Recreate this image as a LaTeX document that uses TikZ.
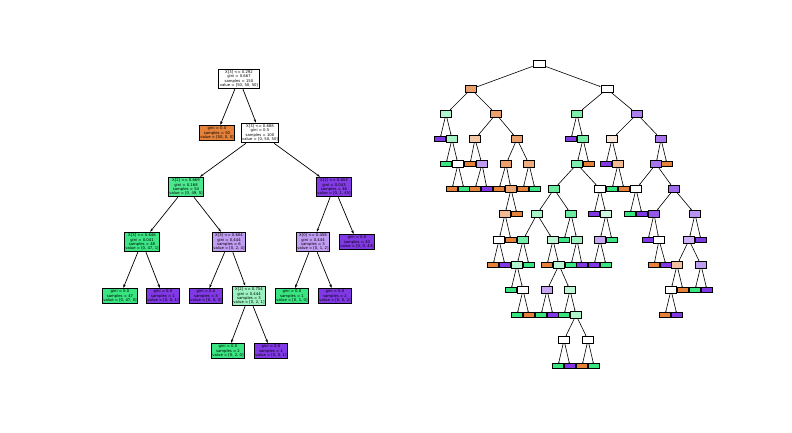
\documentclass[tikz,border=0pt]{standalone}
\usepackage{fontspec}
\setmainfont{DejaVu Sans}
\usetikzlibrary{arrows.meta}
\definecolor{treeorange}{HTML}{E58139}
\definecolor{treegreen}{HTML}{39E581}
\definecolor{treepurple}{HTML}{8139E5}
\tikzstyle{split}=[draw, rectangle, line width=0.9pt, inner xsep=1pt, inner ysep=1.5pt, align=center, font=\fontsize{3.8}{4.4}\selectfont]
\tikzstyle{mini}=[draw, rectangle, line width=0.85pt, minimum width=10.5pt, minimum height=7pt, inner sep=0pt]
\tikzstyle{minileaf}=[mini, minimum height=4.5pt]
\tikzstyle{edge}=[-{Stealth[length=3.5pt,width=2.4pt]}, line width=0.7pt]
\tikzstyle{miniedge}=[-{Stealth[length=1.6pt,width=1.2pt]}, line width=0.6pt]

\begin{document}
\begin{tikzpicture}[x=1pt, y=-1pt]
            \useasboundingbox (0,0) rectangle (792,432);

            % shallow tree
            \node[split, fill=white] (d0) at (239,79) {X[3] <= 0.292\\gini = 0.667\\samples = 150\\value = [50, 50, 50]};
            \node[split, fill=treeorange] (d1) at (217,133) {gini = 0.0\\samples = 50\\value = [50, 0, 0]};
            \node[split, fill=white] (d2) at (260,133) {X[3] <= 0.688\\gini = 0.5\\samples = 100\\value = [0, 50, 50]};
            \node[split, fill=treegreen!90] (d3) at (186,187) {X[2] <= 0.669\\gini = 0.168\\samples = 54\\value = [0, 49, 5]};
            \node[split, fill=treepurple!98] (d4) at (334,187) {X[2] <= 0.653\\gini = 0.043\\samples = 46\\value = [0, 1, 45]};
            \node[split, fill=treegreen!98] (d5) at (142,242) {X[3] <= 0.646\\gini = 0.041\\samples = 48\\value = [0, 47, 1]};
            \node[split, fill=treepurple!50] (d6) at (229,242) {X[3] <= 0.604\\gini = 0.444\\samples = 6\\value = [0, 2, 4]};
            \node[split, fill=treepurple!50] (d7) at (313,242) {X[0] <= 0.458\\gini = 0.444\\samples = 3\\value = [0, 1, 2]};
            \node[split, fill=treepurple] (d8) at (357,242) {gini = 0.0\\samples = 43\\value = [0, 0, 43]};
            \node[split, fill=treegreen] (d9) at (120,296) {gini = 0.0\\samples = 47\\value = [0, 47, 0]};
            \node[split, fill=treepurple] (d10) at (163,296) {gini = 0.0\\samples = 1\\value = [0, 0, 1]};
            \node[split, fill=treepurple] (d11) at (206,296) {gini = 0.0\\samples = 3\\value = [0, 0, 3]};
            \node[split, fill=treegreen!50] (d12) at (249,296) {X[2] <= 0.754\\gini = 0.444\\samples = 3\\value = [0, 2, 1]};
            \node[split, fill=treegreen] (d13) at (292,296) {gini = 0.0\\samples = 1\\value = [0, 1, 0]};
            \node[split, fill=treepurple] (d14) at (335,296) {gini = 0.0\\samples = 2\\value = [0, 0, 2]};
            \node[split, fill=treegreen] (d15) at (228,351) {gini = 0.0\\samples = 2\\value = [0, 2, 0]};
            \node[split, fill=treepurple] (d16) at (271,351) {gini = 0.0\\samples = 1\\value = [0, 0, 1]};

            \draw[edge] (d0) -- (d1);
            \draw[edge] (d0) -- (d2);
            \draw[edge] (d2) -- (d3);
            \draw[edge] (d2) -- (d4);
            \draw[edge] (d3) -- (d5);
            \draw[edge] (d3) -- (d6);
            \draw[edge] (d4) -- (d7);
            \draw[edge] (d4) -- (d8);
            \draw[edge] (d5) -- (d9);
            \draw[edge] (d5) -- (d10);
            \draw[edge] (d6) -- (d11);
            \draw[edge] (d6) -- (d12);
            \draw[edge] (d7) -- (d13);
            \draw[edge] (d7) -- (d14);
            \draw[edge] (d12) -- (d15);
            \draw[edge] (d12) -- (d16);

            % full tree
            \node[mini, minimum width=12pt, fill=white] (f0) at (539,64) {};
            \node[mini, fill=treeorange!75] (f1) at (471,89) {};
            \node[mini, minimum width=12pt, fill=white] (f2) at (607,89) {};
            \node[mini, fill=treegreen!40] (f3) at (446,114) {};
            \node[mini, fill=treeorange!75] (f4) at (496,114) {};
            \node[mini, fill=treegreen!65] (f5) at (577,114) {};
            \node[mini, fill=treepurple!65] (f6) at (637,114) {};
            \node[minileaf, fill=treepurple] (f7) at (440,139) {};
            \node[mini, fill=treegreen!45] (f8) at (452,139) {};
            \node[mini, fill=treeorange!45] (f9) at (475,139) {};
            \node[mini, fill=treeorange!75] (f10) at (517,139) {};
            \node[minileaf, fill=treepurple] (f11) at (571,139) {};
            \node[mini, fill=treegreen!70] (f12) at (583,139) {};
            \node[mini, fill=treeorange!20] (f13) at (612,139) {};
            \node[mini, fill=treepurple!70] (f14) at (661,139) {};
            \node[minileaf, fill=treegreen] (f15) at (446,164) {};
            \node[mini, fill=white] (f16) at (458,164) {};
            \node[minileaf, fill=treeorange] (f17) at (470,164) {};
            \node[mini, fill=treepurple!50] (f18) at (482,164) {};
            \node[mini, fill=treeorange!75] (f19) at (506,164) {};
            \node[mini, fill=treeorange!65] (f20) at (529,164) {};
            \node[mini, fill=treegreen!65] (f21) at (577,164) {};
            \node[minileaf, fill=treeorange] (f22) at (589,164) {};
            \node[minileaf, fill=treepurple] (f23) at (606,164) {};
            \node[mini, fill=treeorange!55] (f24) at (618,164) {};
            \node[mini, fill=treepurple!70] (f25) at (656,164) {};
            \node[minileaf, fill=treeorange] (f26) at (667,164) {};
            \node[minileaf, fill=treeorange] (f27) at (452,189) {};
            \node[minileaf, fill=treegreen] (f28) at (464,189) {};
            \node[minileaf, fill=treeorange] (f29) at (475,189) {};
            \node[minileaf, fill=treepurple] (f30) at (487,189) {};
            \node[minileaf, fill=treeorange] (f31) at (499,189) {};
            \node[mini, fill=treeorange!70] (f32) at (511,189) {};
            \node[minileaf, fill=treeorange] (f33) at (523,189) {};
            \node[minileaf, fill=treegreen] (f34) at (535,189) {};
            \node[mini, fill=treegreen!75] (f35) at (554,189) {};
            \node[mini, fill=white] (f36) at (600,189) {};
            \node[minileaf, fill=treegreen] (f37) at (612,189) {};
            \node[minileaf, fill=treeorange] (f38) at (624,189) {};
            \node[mini, fill=white] (f39) at (636,189) {};
            \node[mini, fill=treepurple!75] (f40) at (674,189) {};
            \node[mini, fill=treeorange!55] (f41) at (505,214) {};
            \node[minileaf, fill=treeorange] (f42) at (517,214) {};
            \node[mini, fill=treegreen!45] (f43) at (537,214) {};
            \node[mini, fill=treegreen!75] (f44) at (571,214) {};
            \node[minileaf, fill=treepurple] (f45) at (594,214) {};
            \node[mini, fill=treegreen!25] (f46) at (606,214) {};
            \node[minileaf, fill=treegreen] (f47) at (630,214) {};
            \node[minileaf, fill=treepurple] (f48) at (642,214) {};
            \node[mini, fill=treepurple!85] (f49) at (654,214) {};
            \node[mini, fill=treepurple!55] (f50) at (695,214) {};
            \node[mini, fill=white] (f51) at (499,240) {};
            \node[minileaf, fill=treeorange] (f52) at (511,240) {};
            \node[mini, fill=treegreen!70] (f53) at (523,240) {};
            \node[mini, fill=treegreen!35] (f54) at (553,240) {};
            \node[minileaf, fill=treegreen] (f55) at (564,240) {};
            \node[mini, fill=treegreen!50] (f56) at (577,240) {};
            \node[mini, fill=treepurple!45] (f57) at (600,240) {};
            \node[minileaf, fill=treegreen] (f58) at (612,240) {};
            \node[minileaf, fill=treepurple] (f59) at (648,240) {};
            \node[mini, fill=white] (f60) at (659,240) {};
            \node[mini, fill=treepurple!40] (f61) at (689,240) {};
            \node[minileaf, fill=treepurple] (f62) at (701,240) {};
            \node[minileaf, fill=treeorange] (f63) at (493,265) {};
            \node[minileaf, fill=treepurple] (f64) at (505,265) {};
            \node[mini, fill=treegreen!40] (f65) at (517,265) {};
            \node[minileaf, fill=treegreen] (f66) at (529,265) {};
            \node[minileaf, fill=treeorange] (f67) at (547,265) {};
            \node[mini, fill=treegreen!35] (f68) at (559,265) {};
            \node[minileaf, fill=treegreen] (f69) at (571,265) {};
            \node[minileaf, fill=treepurple] (f70) at (582,265) {};
            \node[minileaf, fill=treepurple] (f71) at (594,265) {};
            \node[minileaf, fill=treegreen] (f72) at (606,265) {};
            \node[minileaf, fill=treeorange] (f73) at (654,265) {};
            \node[minileaf, fill=treepurple] (f74) at (666,265) {};
            \node[mini, fill=treeorange!50] (f75) at (677,265) {};
            \node[mini, fill=treepurple!50] (f76) at (701,265) {};
            \node[minileaf, fill=treegreen] (f77) at (511,290) {};
            \node[mini, fill=white] (f78) at (523,290) {};
            \node[mini, fill=treepurple!45] (f79) at (547,290) {};
            \node[mini, fill=treegreen!35] (f80) at (570,290) {};
            \node[mini, fill=white] (f81) at (671,290) {};
            \node[minileaf, fill=treeorange] (f82) at (683,290) {};
            \node[minileaf, fill=treegreen] (f83) at (695,290) {};
            \node[minileaf, fill=treepurple] (f84) at (707,290) {};
            \node[minileaf, fill=treegreen] (f85) at (517,315) {};
            \node[minileaf, fill=treeorange] (f86) at (529,315) {};
            \node[minileaf, fill=treegreen] (f87) at (541,315) {};
            \node[minileaf, fill=treepurple] (f88) at (553,315) {};
            \node[minileaf, fill=treegreen] (f89) at (564,315) {};
            \node[mini, fill=treegreen!40] (f90) at (576,315) {};
            \node[minileaf, fill=treeorange] (f91) at (665,315) {};
            \node[minileaf, fill=treepurple] (f92) at (677,315) {};
            \node[mini, fill=white] (f93) at (564,340) {};
            \node[mini, fill=white] (f94) at (588,340) {};
            \node[minileaf, fill=treegreen] (f95) at (558,366) {};
            \node[minileaf, fill=treepurple] (f96) at (570,366) {};
            \node[minileaf, fill=treeorange] (f97) at (582,366) {};
            \node[minileaf, fill=treegreen] (f98) at (594,366) {};

            \draw[miniedge] (f0) -- (f1); \draw[miniedge] (f0) -- (f2);
            \draw[miniedge] (f1) -- (f3); \draw[miniedge] (f1) -- (f4);
            \draw[miniedge] (f2) -- (f5); \draw[miniedge] (f2) -- (f6);
            \draw[miniedge] (f3) -- (f7); \draw[miniedge] (f3) -- (f8);
            \draw[miniedge] (f4) -- (f9); \draw[miniedge] (f4) -- (f10);
            \draw[miniedge] (f5) -- (f11); \draw[miniedge] (f5) -- (f12);
            \draw[miniedge] (f6) -- (f13); \draw[miniedge] (f6) -- (f14);
            \draw[miniedge] (f8) -- (f15); \draw[miniedge] (f8) -- (f16);
            \draw[miniedge] (f9) -- (f17); \draw[miniedge] (f9) -- (f18);
            \draw[miniedge] (f10) -- (f19); \draw[miniedge] (f10) -- (f20);
            \draw[miniedge] (f12) -- (f21); \draw[miniedge] (f12) -- (f22);
            \draw[miniedge] (f13) -- (f23); \draw[miniedge] (f13) -- (f24);
            \draw[miniedge] (f14) -- (f25); \draw[miniedge] (f14) -- (f26);
            \draw[miniedge] (f16) -- (f27); \draw[miniedge] (f16) -- (f28);
            \draw[miniedge] (f18) -- (f29); \draw[miniedge] (f18) -- (f30);
            \draw[miniedge] (f19) -- (f31); \draw[miniedge] (f19) -- (f32);
            \draw[miniedge] (f20) -- (f33); \draw[miniedge] (f20) -- (f34);
            \draw[miniedge] (f21) -- (f35); \draw[miniedge] (f21) -- (f36);
            \draw[miniedge] (f24) -- (f37); \draw[miniedge] (f24) -- (f38);
            \draw[miniedge] (f25) -- (f39); \draw[miniedge] (f25) -- (f40);
            \draw[miniedge] (f32) -- (f41); \draw[miniedge] (f32) -- (f42);
            \draw[miniedge] (f35) -- (f43); \draw[miniedge] (f35) -- (f44);
            \draw[miniedge] (f36) -- (f45); \draw[miniedge] (f36) -- (f46);
            \draw[miniedge] (f39) -- (f47); \draw[miniedge] (f39) -- (f48);
            \draw[miniedge] (f40) -- (f49); \draw[miniedge] (f40) -- (f50);
            \draw[miniedge] (f41) -- (f51); \draw[miniedge] (f41) -- (f52);
            \draw[miniedge] (f43) -- (f53); \draw[miniedge] (f43) -- (f54);
            \draw[miniedge] (f44) -- (f55); \draw[miniedge] (f44) -- (f56);
            \draw[miniedge] (f46) -- (f57); \draw[miniedge] (f46) -- (f58);
            \draw[miniedge] (f49) -- (f59); \draw[miniedge] (f49) -- (f60);
            \draw[miniedge] (f50) -- (f61); \draw[miniedge] (f50) -- (f62);
            \draw[miniedge] (f51) -- (f63); \draw[miniedge] (f51) -- (f64);
            \draw[miniedge] (f53) -- (f65); \draw[miniedge] (f53) -- (f66);
            \draw[miniedge] (f54) -- (f67); \draw[miniedge] (f54) -- (f68);
            \draw[miniedge] (f56) -- (f69); \draw[miniedge] (f56) -- (f70);
            \draw[miniedge] (f57) -- (f71); \draw[miniedge] (f57) -- (f72);
            \draw[miniedge] (f60) -- (f73); \draw[miniedge] (f60) -- (f74);
            \draw[miniedge] (f61) -- (f75); \draw[miniedge] (f61) -- (f76);
            \draw[miniedge] (f65) -- (f77); \draw[miniedge] (f65) -- (f78);
            \draw[miniedge] (f68) -- (f79); \draw[miniedge] (f68) -- (f80);
            \draw[miniedge] (f75) -- (f81); \draw[miniedge] (f75) -- (f82);
            \draw[miniedge] (f76) -- (f83); \draw[miniedge] (f76) -- (f84);
            \draw[miniedge] (f78) -- (f85); \draw[miniedge] (f78) -- (f86);
            \draw[miniedge] (f79) -- (f87); \draw[miniedge] (f79) -- (f88);
            \draw[miniedge] (f80) -- (f89); \draw[miniedge] (f80) -- (f90);
            \draw[miniedge] (f81) -- (f91); \draw[miniedge] (f81) -- (f92);
            \draw[miniedge] (f90) -- (f93); \draw[miniedge] (f90) -- (f94);
            \draw[miniedge] (f93) -- (f95); \draw[miniedge] (f93) -- (f96);
            \draw[miniedge] (f94) -- (f97); \draw[miniedge] (f94) -- (f98);
        \end{tikzpicture}
\end{document}
